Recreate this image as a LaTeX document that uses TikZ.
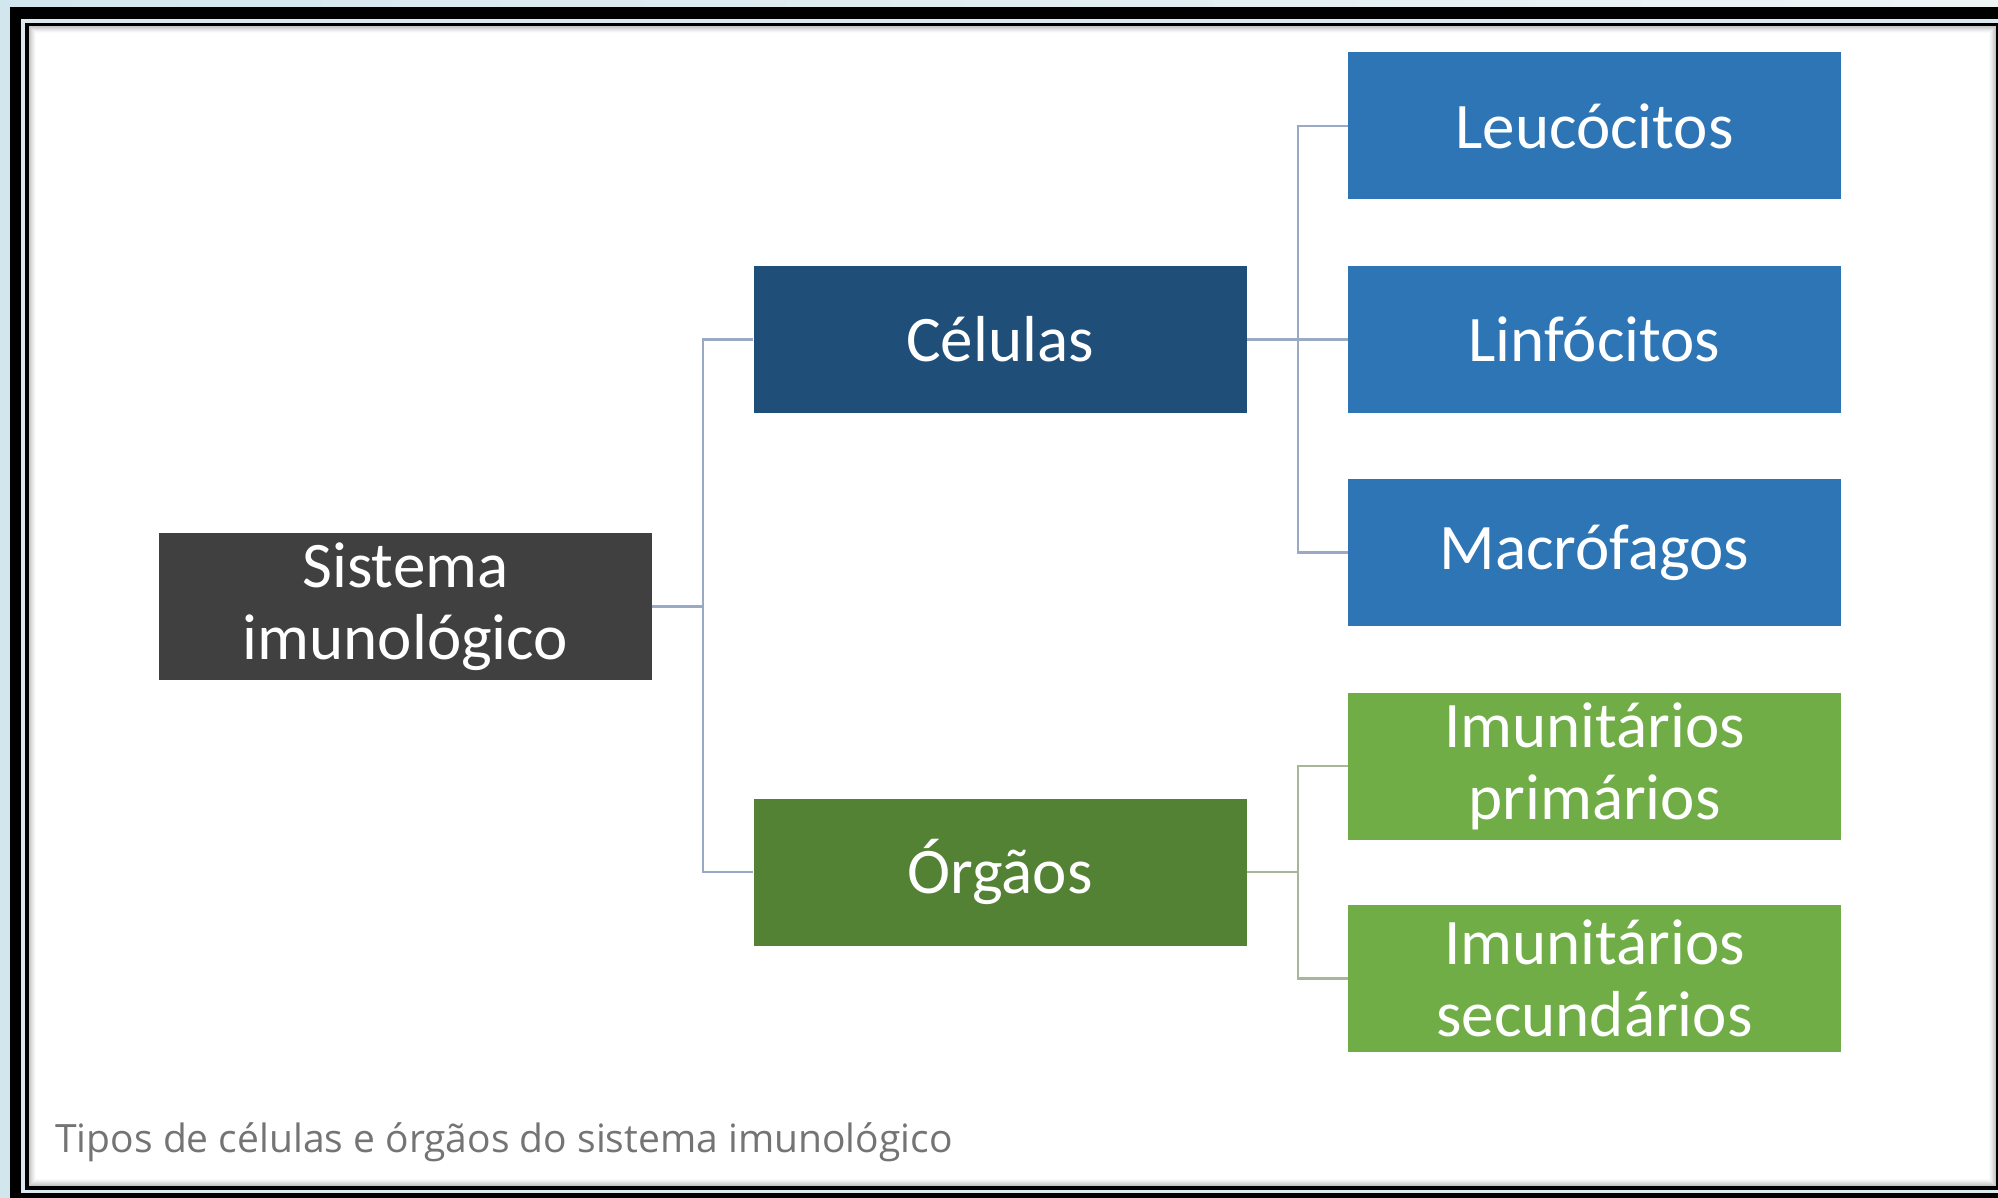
\documentclass[tikz,border=0pt]{standalone}
\usepackage{fontspec}
\setmainfont{Carlito}
\newfontfamily\capfont{Open Sans}
\definecolor{bgL}{HTML}{D2E6EE}
\definecolor{bgR}{HTML}{EEF4F6}
\definecolor{gapc}{HTML}{DCEAF0}
\definecolor{cGray}{HTML}{404040}
\definecolor{cDBlue}{HTML}{1F4E79}
\definecolor{cDGreen}{HTML}{548235}
\definecolor{cBlue}{HTML}{2E75B6}
\definecolor{cGreen}{HTML}{70AD47}
\definecolor{lnBlue}{HTML}{9AAAC4}
\definecolor{lnGreen}{HTML}{A8B69A}
\definecolor{capc}{HTML}{747474}
\tikzset{
  boxbase/.style={rectangle, inner sep=0pt, minimum width=246.5pt, minimum height=73.5pt,
    text=white, align=center, font=\fontsize{32.5}{36}\selectfont},
  boxgray/.style={boxbase, fill=cGray},
  boxdblue/.style={boxbase, fill=cDBlue},
  boxdgreen/.style={boxbase, fill=cDGreen},
  boxblue/.style={boxbase, fill=cBlue},
  boxgreen/.style={boxbase, fill=cGreen},
  conb/.style={draw=lnBlue, line width=1.25pt},
  cong/.style={draw=lnGreen, line width=1.25pt},
}
\begin{document}
\begin{tikzpicture}[x=0.5pt,y=-0.5pt]
\useasboundingbox (0,0) rectangle (1998,1198);
\clip (0,0) rectangle (1998,1198);
% background
\shade[left color=bgL, right color=bgR] (0,0) rectangle (1998,1198);
% frame
\fill[black] (10,7) rectangle (2010,1210);
\fill[gapc] (21,19) rectangle (2010,1193);
\fill[black] (25,23) rectangle (2010,1190);
% inner panel with soft inner shadow
\foreach \i/\c in {0/55,1/62,2/70,3/78,4/85,5/91,6/96} {
  \fill[white!\c!gray] (29+\i,26+\i) rectangle (1996-\i,1186-\i);
}
\fill[white] (36,33) rectangle (1989,1179);
% boxes
\node[boxgray]   (sis) at (405.5,606.5) {Sistema\\imunológico};
\node[boxdblue]  (cel) at (1000,339.5) {Células};
\node[boxdgreen] (org) at (1000,872) {Órgãos};
\node[boxblue]   (leu) at (1594.5,126) {Leucócitos};
\node[boxblue]   (lin) at (1594.5,339.5) {Linfócitos};
\node[boxblue]   (mac) at (1594.5,552.5) {Macrófagos};
\node[boxgreen]  (pri) at (1594.5,766) {Imunitários\\primários};
\node[boxgreen]  (sec) at (1594.5,978.5) {Imunitários\\secundários};
% connectors
\coordinate (t1) at (703,606.5);
\coordinate (t2) at (1298,339.5);
\coordinate (t3) at (1298,872);
\draw[conb] (sis.east) -- (t1);
\draw[conb] (t1) |- (cel.west);
\draw[conb] (t1) |- (org.west);
\draw[conb] (cel.east) -- (lin.west);
\draw[conb] (t2) |- (leu.west);
\draw[conb] (t2) |- (mac.west);
\draw[cong] (org.east) -- (t3);
\draw[cong] (t3) |- (pri.west);
\draw[cong] (t3) |- (sec.west);
% caption
\node[anchor=base west, inner sep=0pt, text=capc, font=\capfont\fontsize{19.5}{22}\selectfont] (cap) at (55,1152) {Tipos de células e órgãos do sistema imunológico};
\end{tikzpicture}
\end{document}
